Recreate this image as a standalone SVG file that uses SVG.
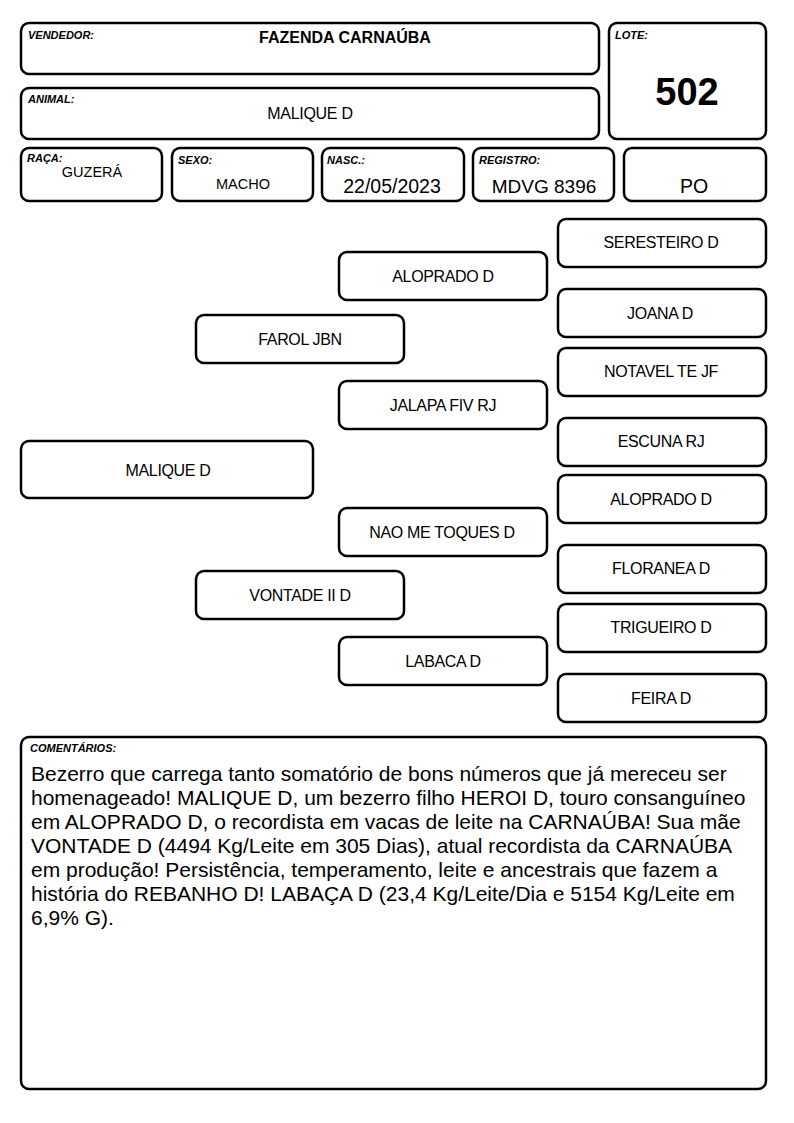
<svg xmlns="http://www.w3.org/2000/svg" width="794" height="1123" viewBox="0 0 794 1123">
<style>
.box{fill:#fff;stroke:#000;stroke-width:2.5}
.lbl{font-family:"Liberation Sans",Arial,sans-serif;font-size:11px;font-weight:bold;font-style:italic;fill:#000}
.val{font-family:"Liberation Sans",Arial,sans-serif;fill:#000;text-anchor:middle}
.ped{font-family:"Liberation Sans",Arial,sans-serif;font-size:16px;letter-spacing:-0.35px;fill:#000;text-anchor:middle}
.cm{font-family:"Liberation Sans",Arial,sans-serif;font-size:21px;fill:#000}
</style>
<rect width="794" height="1123" fill="#fff"/>
<g id="vendedor"><rect class="box" x="21" y="23" width="578" height="51" rx="8"/><text class="lbl" x="28" y="39">VENDEDOR:</text><text class="val" x="345" y="43" font-size="16" font-weight="bold">FAZENDA CARNAÚBA</text></g>
<g id="animal"><rect class="box" x="21" y="88" width="578" height="51" rx="8"/><text class="lbl" x="28" y="103">ANIMAL:</text><text class="val" x="310" y="119" font-size="16" letter-spacing="-0.3">MALIQUE D</text></g>
<g id="lote"><rect class="box" x="609" y="23" width="157" height="116" rx="8"/><text class="lbl" x="615" y="39">LOTE:</text><text class="val" x="687" y="105" font-size="38" font-weight="bold">502</text></g>
<g id="raca"><rect class="box" x="21" y="148" width="141" height="53" rx="8"/><text class="lbl" x="27" y="162">RAÇA:</text><text class="val" x="92" y="177" font-size="14.5">GUZERÁ</text></g>
<g id="sexo"><rect class="box" x="172" y="148" width="141" height="53" rx="8"/><text class="lbl" x="178" y="164">SEXO:</text><text class="val" x="243" y="189" font-size="14.5">MACHO</text></g>
<g id="nasc"><rect class="box" x="322" y="148" width="142" height="53" rx="8"/><text class="lbl" x="327" y="164">NASC.:</text><text class="val" x="392" y="193" font-size="19.5">22/05/2023</text></g>
<g id="registro"><rect class="box" x="473" y="148" width="141" height="53" rx="8"/><text class="lbl" x="479" y="164">REGISTRO:</text><text class="val" x="544" y="193" font-size="19">MDVG 8396</text></g>
<g id="po"><rect class="box" x="624" y="148" width="142" height="53" rx="8"/><text class="val" x="694" y="193" font-size="19.5">PO</text></g>
<g id="connectors"></g>
<g id="n-malique"><rect class="box" x="21" y="441" width="292" height="57" rx="8"/><text class="ped" x="168" y="476">MALIQUE D</text></g>
<g id="n-farol"><rect class="box" x="196" y="315" width="208" height="48" rx="8"/><text class="ped" x="300" y="345">FAROL JBN</text></g>
<g id="n-vontade"><rect class="box" x="196" y="571" width="208" height="48" rx="8"/><text class="ped" x="300" y="601">VONTADE II D</text></g>
<g id="n-aloprado"><rect class="box" x="339" y="252" width="208" height="48" rx="8"/><text class="ped" x="443" y="282">ALOPRADO D</text></g>
<g id="n-jalapa"><rect class="box" x="339" y="381" width="208" height="48" rx="8"/><text class="ped" x="443" y="411">JALAPA FIV RJ</text></g>
<g id="n-naometoques"><rect class="box" x="339" y="508" width="208" height="48" rx="8"/><text class="ped" x="442" y="538">NAO ME TOQUES D</text></g>
<g id="n-labaca"><rect class="box" x="339" y="637" width="208" height="48" rx="8"/><text class="ped" x="443" y="667">LABACA D</text></g>
<g id="n-seresteiro"><rect class="box" x="558" y="219" width="208" height="48" rx="8"/><text class="ped" x="661" y="248">SERESTEIRO D</text></g>
<g id="n-joana"><rect class="box" x="558" y="289" width="208" height="48" rx="8"/><text class="ped" x="660" y="319">JOANA D</text></g>
<g id="n-notavel"><rect class="box" x="558" y="348" width="208" height="48" rx="8"/><text class="ped" x="661" y="377">NOTAVEL TE JF</text></g>
<g id="n-escuna"><rect class="box" x="558" y="418" width="208" height="48" rx="8"/><text class="ped" x="661" y="447">ESCUNA RJ</text></g>
<g id="n-aloprado2"><rect class="box" x="558" y="475" width="208" height="48" rx="8"/><text class="ped" x="661" y="505">ALOPRADO D</text></g>
<g id="n-floranea"><rect class="box" x="558" y="545" width="208" height="48" rx="8"/><text class="ped" x="661" y="574">FLORANEA D</text></g>
<g id="n-trigueiro"><rect class="box" x="558" y="604" width="208" height="48" rx="8"/><text class="ped" x="661" y="633">TRIGUEIRO D</text></g>
<g id="n-feira"><rect class="box" x="558" y="674" width="208" height="48" rx="8"/><text class="ped" x="661" y="704">FEIRA D</text></g>
<g id="comentarios"><rect class="box" x="21" y="737" width="745" height="352" rx="8"/><text class="lbl" x="30" y="752">COMENTÁRIOS:</text>
<text class="cm"><tspan x="31" y="781">Bezerro que carrega tanto somatório de bons números que já mereceu ser</tspan><tspan x="31" y="805">homenageado! MALIQUE D, um bezerro filho HEROI D, touro consanguíneo</tspan><tspan x="31" y="829">em ALOPRADO D, o recordista em vacas de leite na CARNAÚBA! Sua mãe</tspan><tspan x="31" y="853">VONTADE D (4494 Kg/Leite em 305 Dias), atual recordista da CARNAÚBA</tspan><tspan x="31" y="877">em produção! Persistência, temperamento, leite e ancestrais que fazem a</tspan><tspan x="31" y="901">história do REBANHO D! LABAÇA D (23,4 Kg/Leite/Dia e 5154 Kg/Leite em</tspan><tspan x="31" y="925">6,9% G).</tspan></text></g>
</svg>
